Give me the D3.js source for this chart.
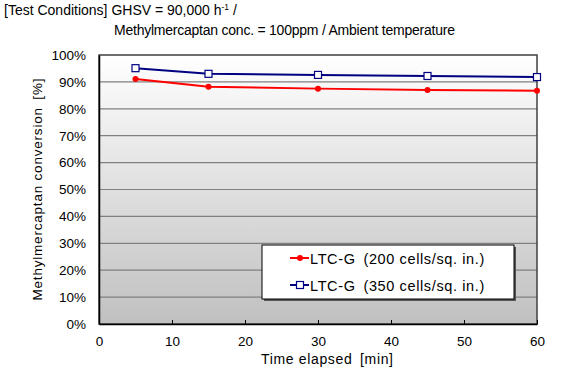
<!DOCTYPE html>
<html><head><meta charset="utf-8">
<script src="https://cdn.jsdelivr.net/npm/d3@7"></script>
<style>body{margin:0;background:#fff}svg{display:block;font-family:"Liberation Sans",Arial,sans-serif}</style>
</head><body><svg id="c" width="564" height="376"></svg>
<script>
const times = [5, 15, 30, 45, 60];
const series200 = [91.1, 88.2, 87.5, 87.0, 86.7];
const series350 = [95.1, 93.0, 92.6, 92.2, 91.8];
const seriesNames = ["LTC-G\u2002(200 cells/sq. in.)", "LTC-G\u2002(350 cells/sq. in.)"];
const xTicks = [0, 10, 20, 30, 40, 50, 60];
const yTicks = [0, 10, 20, 30, 40, 50, 60, 70, 80, 90, 100];

const svg = d3.select("#c");
const L = 99, R = 537, T = 55, B = 324;
const x = d3.scaleLinear().domain([0, 60]).range([L, R]);
const y = d3.scaleLinear().domain([0, 100]).range([B, T]);

const defs = svg.append("defs");
const g = defs.append("linearGradient").attr("id", "bg").attr("x1", 0).attr("y1", 0).attr("x2", 0).attr("y2", 1);
g.append("stop").attr("offset", "0%").attr("stop-color", "#ffffff");
g.append("stop").attr("offset", "100%").attr("stop-color", "#c0c0c0");

svg.append("rect").attr("x", L).attr("y", T).attr("width", R - L).attr("height", B - T).attr("fill", "url(#bg)");

svg.append("g").selectAll("line").data(yTicks.slice(1, -1)).join("line")
  .attr("x1", L).attr("x2", R).attr("y1", d => y(d)).attr("y2", d => y(d))
  .attr("stroke", "#808080").attr("stroke-width", 1.2);

svg.append("rect").attr("x", L).attr("y", T).attr("width", R - L).attr("height", B - T)
  .attr("fill", "none").attr("stroke", "#404040").attr("stroke-width", 1.5);

const yAxis = svg.append("g").attr("transform", `translate(${L},0)`)
  .call(d3.axisLeft(y).tickValues(yTicks).tickFormat(d => d + "%").tickSize(0).tickPadding(13));
yAxis.select(".domain").attr("stroke", "#000").attr("stroke-width", 1.5);
yAxis.selectAll("text").attr("font-size", 13.5).attr("fill", "#000").attr("font-family", "'Liberation Sans',Arial,sans-serif");

const xAxis = svg.append("g").attr("transform", `translate(0,${B})`)
  .call(d3.axisBottom(x).tickValues(xTicks).tickSizeInner(-4).tickSizeOuter(0).tickPadding(12));
xAxis.select(".domain").attr("stroke", "#000").attr("stroke-width", 1.5);
xAxis.selectAll(".tick line").attr("stroke", "#000");
xAxis.selectAll("text").attr("font-size", 13.5).attr("fill", "#000").attr("font-family", "'Liberation Sans',Arial,sans-serif");

const line = d3.line().x((d, i) => x(times[i])).y(d => y(d));
svg.append("path").datum(series350).attr("d", line).attr("fill", "none").attr("stroke", "#000080").attr("stroke-width", 2);
svg.append("path").datum(series200).attr("d", line).attr("fill", "none").attr("stroke", "#ff0000").attr("stroke-width", 2);

svg.append("g").selectAll("circle").data(series200).join("circle")
  .attr("cx", (d, i) => x(times[i])).attr("cy", d => y(d)).attr("r", 3).attr("fill", "#ff0000");
svg.append("g").selectAll("rect").data(series350).join("rect")
  .attr("x", (d, i) => x(times[i]) - 3.5).attr("y", d => y(d) - 3.5).attr("width", 7).attr("height", 7)
  .attr("fill", "#fff").attr("stroke", "#000080").attr("stroke-width", 1.2);

// legend
svg.append("rect").attr("x", 264).attr("y", 247).attr("width", 252).attr("height", 54).attr("fill", "#555");
svg.append("rect").attr("x", 262).attr("y", 245).attr("width", 252).attr("height", 54).attr("fill", "#fff").attr("stroke", "#000").attr("stroke-width", 1);
const lg = [{c: "#ff0000", t: "circle", y: 258, n: seriesNames[0]}, {c: "#000080", t: "square", y: 285, n: seriesNames[1]}];
lg.forEach(l => {
  svg.append("line").attr("x1", 290).attr("x2", 309).attr("y1", l.y).attr("y2", l.y).attr("stroke", l.c).attr("stroke-width", 2);
  if (l.t === "circle") svg.append("circle").attr("cx", 300).attr("cy", l.y).attr("r", 3).attr("fill", l.c);
  else svg.append("rect").attr("x", 296.5).attr("y", l.y - 3.5).attr("width", 7).attr("height", 7).attr("fill", "#fff").attr("stroke", l.c).attr("stroke-width", 1.2);
  svg.append("text").attr("x", 310).attr("y", l.y + 5.5).attr("font-size", 14.5).attr("letter-spacing", 0.7)
    .attr("textLength", 175).attr("fill", "#000").text(l.n);
});

// titles
svg.append("text").attr("x", 4).attr("y", 15).attr("font-size", 14).attr("fill", "#000")
  .html('[Test Conditions] GHSV = 90,000 h<tspan font-size="8.5" dy="-5">-1</tspan><tspan dy="5"> /</tspan>');
svg.append("text").attr("x", 114).attr("y", 35).attr("font-size", 14).attr("fill", "#000")
  .attr("textLength", 341).text("Methylmercaptan conc. = 100ppm / Ambient temperature");

svg.append("text").attr("transform", `translate(42,${(T + B) / 2}) rotate(-90)`).attr("text-anchor", "middle")
  .attr("font-size", 13.5).attr("textLength", 222).attr("fill", "#000").text("Methylmercaptan conversion\u2002[%]");
svg.append("text").attr("x", 327).attr("y", 364).attr("text-anchor", "middle")
  .attr("font-size", 14).attr("textLength", 132).attr("fill", "#000").text("Time elapsed\u2002[min]");
</script></body></html>
